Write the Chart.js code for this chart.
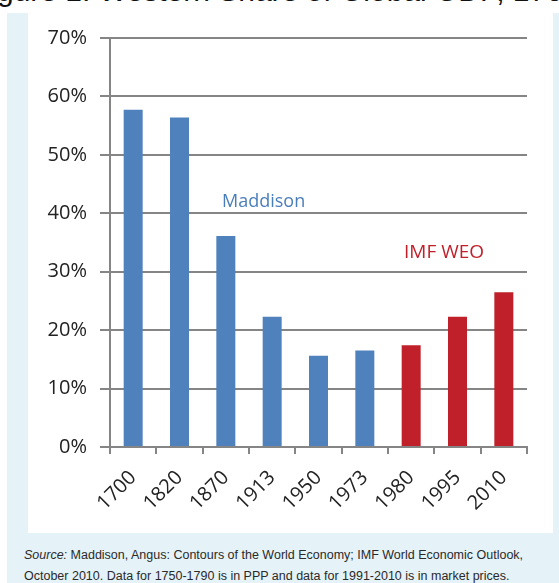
<!DOCTYPE html>
<html>
<head>
<meta charset="utf-8">
<script src="https://cdn.jsdelivr.net/npm/chart.js@4.4.0/dist/chart.umd.min.js"></script>
<style>
  body { margin: 0; width: 559px; height: 583px; overflow: hidden; background: #fff; position: relative; font-family: "Open Sans", sans-serif; }
  #title { position: absolute; left: -28px; top: -26px; font: 30px "Liberation Sans", sans-serif; color: #111; white-space: nowrap; }
  #panel { position: absolute; left: 7px; top: 13px; width: 552px; height: 570px; background: #e5f2f8; }
  #inner { position: absolute; left: 28px; top: 13px; width: 525px; height: 520px; background: #fff; }
  #chart-wrap { position: absolute; left: 28px; top: 13px; width: 525px; height: 520px; }
  .note { position: absolute; white-space: nowrap; }
  #maddison { left: 222px; top: 191px; font-size: 18px; line-height: 18px; color: #4a7ebb; }
  #imf { left: 404px; top: 242px; font-size: 19px; line-height: 19px; color: #c0202a; }
  #source { position: absolute; left: 24px; top: 545px; font: 12.5px "Liberation Sans Narrow", "Liberation Sans", sans-serif; line-height: 21px; color: #2a2a2a; white-space: nowrap; }
</style>
</head>
<body>
<div id="title">Figure 1: Western Share of Global GDP, 1700-2010</div>
<div id="panel"></div>
<div id="inner"></div>
<div id="chart-wrap"><canvas id="share-chart" width="525" height="520"></canvas></div>
<div class="note" id="maddison">Maddison</div>
<div class="note" id="imf">IMF WEO</div>
<div id="source"><i>Source:</i> Maddison, Angus: Contours of the World Economy; IMF World Economic Outlook,<br>October 2010. Data for 1750-1790 is in PPP and data for 1991-2010 is in market prices.</div>

<script>
const years = ['1700', '1820', '1870', '1913', '1950', '1973', '1980', '1995', '2010'];
// share of global GDP, %
const maddisonShare = [57.7, 56.4, 36.1, 22.3, 15.6, 16.5, null, null, null];
const imfShare = [null, null, null, null, null, null, 17.4, 22.3, 26.5];
const yTicks = [0, 10, 20, 30, 40, 50, 60, 70];

const gridGray = '#858585';
const tickFont = { family: 'Open Sans', size: 20 };

const canvas = document.getElementById('share-chart');

new Chart(canvas, {
  type: 'bar',
  data: {
    labels: years,
    datasets: [
      { label: 'Maddison', data: maddisonShare, backgroundColor: '#4f81bd' },
      { label: 'IMF WEO', data: imfShare, backgroundColor: '#c0202a' }
    ]
  },
  options: {
    responsive: false,
    animation: false,
    grouped: false,
    categoryPercentage: 1,
    barPercentage: 0.41,
    layout: { padding: { top: 24, right: 26, bottom: 0, left: 0 } },
    plugins: {
      legend: { display: false },
      tooltip: { enabled: false }
    },
    scales: {
      x: {
        grid: { display: true, drawOnChartArea: false, drawTicks: true, tickLength: 7, color: gridGray, lineWidth: 2 },
        border: { display: true, color: gridGray, width: 2 },
        ticks: { font: tickFont, color: '#222', minRotation: 45, maxRotation: 45, padding: 12 },
        afterFit: (scale) => { scale.height = 86; }
      },
      y: {
        min: 0,
        max: 70,
        afterBuildTicks: (scale) => { scale.ticks = yTicks.map(v => ({ value: v })); },
        grid: { color: gridGray, lineWidth: 2, drawTicks: true, tickLength: 10 },
        border: { display: true, color: gridGray, width: 2 },
        ticks: { font: tickFont, color: '#222', padding: 13, callback: (v) => v + '%' },
        afterFit: (scale) => { scale.width = 82; }
      }
    }
  }
});
</script>
</body>
</html>
